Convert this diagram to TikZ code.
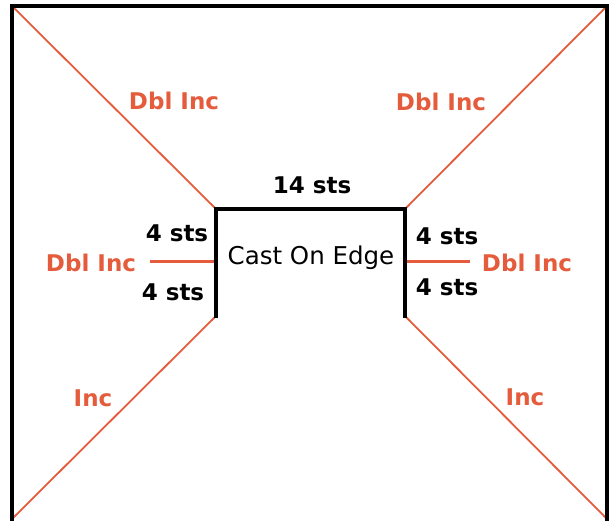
\documentclass[tikz,border=0pt]{standalone}
\usepackage{fontspec}
\setmainfont{DejaVu Sans}
\definecolor{inc}{RGB}{228,92,60}
\begin{document}
\begin{tikzpicture}[x=1pt,y=-1pt,
  frame/.style={line width=3.6pt,black},
  diag/.style={line width=1.8pt,inc},
  spoke/.style={line width=3pt,inc},
  lab/.style={inner sep=0pt,font=\fontsize{23}{23}\selectfont\bfseries,text=inc},
  sts/.style={inner sep=0pt,font=\fontsize{23}{23}\selectfont\bfseries,text=black}]
\useasboundingbox (0,0) rectangle (614,521);
% outer frame corners
\coordinate (TL) at (12,6);
\coordinate (TR) at (607,6);
\coordinate (BL) at (12,519);
\coordinate (BR) at (607,519);
% inner box corners
\coordinate (iTL) at (216,209);
\coordinate (iTR) at (405,209);
\coordinate (iBL) at (216,316);
\coordinate (iBR) at (405,316);
\coordinate (sL) at (150,262);
\coordinate (sLe) at (216,262);
\coordinate (sR) at (470,262);
\coordinate (sRe) at (405,262);
% diagonals
\draw[diag] (TL) -- (iTL);
\draw[diag] (TR) -- (iTR);
\draw[diag] (iBL) -- (BL);
\draw[diag] (iBR) -- (BR);
\draw[spoke] (sL) -- (sLe);
\draw[spoke] (sRe) -- (sR);
% frames
\draw[frame,line cap=rect] (BL) -- (TL) -- (TR) -- (BR);
\draw[frame,line cap=rect] (iBL) -- (iTL) -- (iTR) -- (iBR);
% labels
\node[lab] (d1) at (174,101) {Dbl Inc};
\node[lab] (d2) at (441,102) {Dbl Inc};
\node[lab] (d3) at (91,263) {Dbl Inc};
\node[lab] (d4) at (527,263) {Dbl Inc};
\node[lab] (i1) at (93,398) {Inc};
\node[lab] (i2) at (525,397) {Inc};
\node[sts] (t14) at (312,185) {14 sts};
\node[sts] (l1) at (177,233) {4 sts};
\node[sts] (l2) at (173,292) {4 sts};
\node[sts] (r1) at (447,236) {4 sts};
\node[sts] (r2) at (447,287) {4 sts};
\node[sts,font=\fontsize{24.5}{24.5}\selectfont\mdseries] (coe) at (311,258) {Cast On Edge};
\end{tikzpicture}
\end{document}
